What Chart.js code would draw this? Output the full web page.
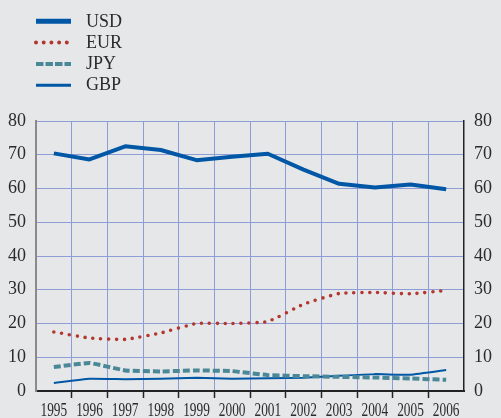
<!DOCTYPE html>
<html>
<head>
<meta charset="utf-8">
<script src="https://cdn.jsdelivr.net/npm/chart.js@4.4.1/dist/chart.umd.min.js"></script>
<style>
  html, body { margin: 0; padding: 0; background: #e6e7e9; }
  #wrap { width: 501px; height: 418px; }
</style>
</head>
<body>
<div id="wrap"><canvas id="c" width="501" height="418"></canvas></div>
<script>
// Share of currencies, per cent
const years = ['1995','1996','1997','1998','1999','2000','2001','2002','2003','2004','2005','2006'];
const usd = [70.4, 68.6, 72.5, 71.4, 68.4, 69.4, 70.3, 65.6, 61.4, 60.3, 61.2, 59.8];
const eur = [17.5, 15.7, 15.3, 17.2, 20.0, 20.0, 20.6, 25.7, 28.9, 29.2, 28.8, 29.8];
const jpy = [7.1, 8.3, 6.1, 5.8, 6.1, 5.9, 4.7, 4.4, 4.2, 4.0, 3.7, 3.3];
const gbp = [2.4, 3.6, 3.5, 3.6, 3.9, 3.6, 3.8, 3.9, 4.5, 5.0, 4.8, 6.2];
const yTicks = [0, 10, 20, 30, 40, 50, 60, 70, 80];

const SERIF = '"Liberation Serif", "Times New Roman", serif';
const TEXT = '#2b2b2b';
const GRID = '#8e9dd6';

// Vertical legend list in the top-left corner
const legendList = {
  id: 'legendList',
  afterDraw(chart) {
    const ctx = chart.ctx;
    chart.data.datasets.forEach((ds, i) => {
      const y = 21.3 + i * 21.3;
      ctx.save();
      ctx.strokeStyle = ds.borderColor;
      ctx.lineWidth = ds.legendWidth;
      ctx.setLineDash(ds.legendDash || []);
      ctx.lineCap = ds.borderCapStyle || 'butt';
      ctx.beginPath();
      ctx.moveTo(36, y);
      ctx.lineTo(71, y);
      ctx.stroke();
      ctx.restore();
      ctx.save();
      ctx.fillStyle = TEXT;
      ctx.font = '18px ' + SERIF;
      ctx.textBaseline = 'middle';
      ctx.textAlign = 'left';
      ctx.fillText(ds.label, 86, y + 0.5);
      ctx.restore();
    });
  }
};

// Narrow year labels under the category axis
const yearLabels = {
  id: 'yearLabels',
  afterDraw(chart) {
    const sx = chart.scales.x;
    const ctx = chart.ctx;
    ctx.save();
    ctx.fillStyle = TEXT;
    ctx.font = '18px ' + SERIF;
    ctx.textAlign = 'center';
    ctx.textBaseline = 'alphabetic';
    sx.ticks.forEach((t, i) => {
      const x = sx.getPixelForTick(i);
      ctx.save();
      ctx.translate(x, sx.top + 25);
      ctx.scale(0.74, 1);
      ctx.fillText(sx.getLabelForValue(t.value), 0, 0);
      ctx.restore();
    });
    ctx.restore();
  }
};

const innerOnly = (col) => (c) => (c.index === undefined || c.index === 0) ? 'rgba(0,0,0,0)' : col;

new Chart(document.getElementById('c'), {
  type: 'line',
  data: {
    labels: years,
    datasets: [
      { label: 'USD', data: usd, borderColor: '#0057a6', borderWidth: 4, legendWidth: 5,
        borderJoinStyle: 'round', pointRadius: 0, tension: 0 },
      { label: 'EUR', data: eur, borderColor: '#b3372f', borderWidth: 3.6, legendWidth: 4,
        borderDash: [0, 7.9], legendDash: [0, 7.7], borderCapStyle: 'round', pointRadius: 0, tension: 0.15 },
      { label: 'JPY', data: jpy, borderColor: '#4a8898', borderWidth: 4, legendWidth: 4,
        borderDash: [7, 3], legendDash: [7.5, 2], pointRadius: 0, tension: 0.1 },
      { label: 'GBP', data: gbp, borderColor: '#0057a6', borderWidth: 2, legendWidth: 3,
        pointRadius: 0, tension: 0.1 }
    ]
  },
  options: {
    responsive: false,
    animation: false,
    layout: { padding: { top: 121, left: 8, right: 9, bottom: 0 } },
    plugins: { legend: { display: false }, tooltip: { enabled: false } },
    scales: {
      x: {
        type: 'category',
        offset: true,
        afterFit: (s) => { s.height = 27; },
        grid: {
          offset: true,
          color: innerOnly(GRID),
          tickColor: innerOnly('#222'),
          tickLength: 7,
          tickWidth: 1.5,
          lineWidth: 1
        },
        border: { color: '#222', width: 2 },
        ticks: { color: 'rgba(0,0,0,0)', font: { size: 16, family: SERIF, lineHeight: 1 }, padding: 0, maxRotation: 0, autoSkip: false }
      },
      y: {
        position: 'left',
        min: 0, max: 80,
        afterBuildTicks: (s) => { s.ticks = yTicks.map(v => ({ value: v })); },
        afterFit: (s) => { s.width = 28; },
        grid: { color: (c) => c.tick && c.tick.value === 0 ? 'rgba(0,0,0,0)' : GRID, drawTicks: false, lineWidth: 1 },
        border: { color: '#8a8a8a', width: 2 },
        ticks: { color: TEXT, font: { size: 18, family: SERIF }, padding: 10 }
      },
      y2: {
        position: 'right',
        min: 0, max: 80,
        afterBuildTicks: (s) => { s.ticks = yTicks.map(v => ({ value: v })); },
        afterFit: (s) => { s.width = 28; },
        grid: { display: false, drawTicks: false },
        border: { color: '#222', width: 1.5 },
        ticks: { color: TEXT, font: { size: 18, family: SERIF }, padding: 10 }
      }
    }
  },
  plugins: [legendList, yearLabels]
});
</script>
</body>
</html>
